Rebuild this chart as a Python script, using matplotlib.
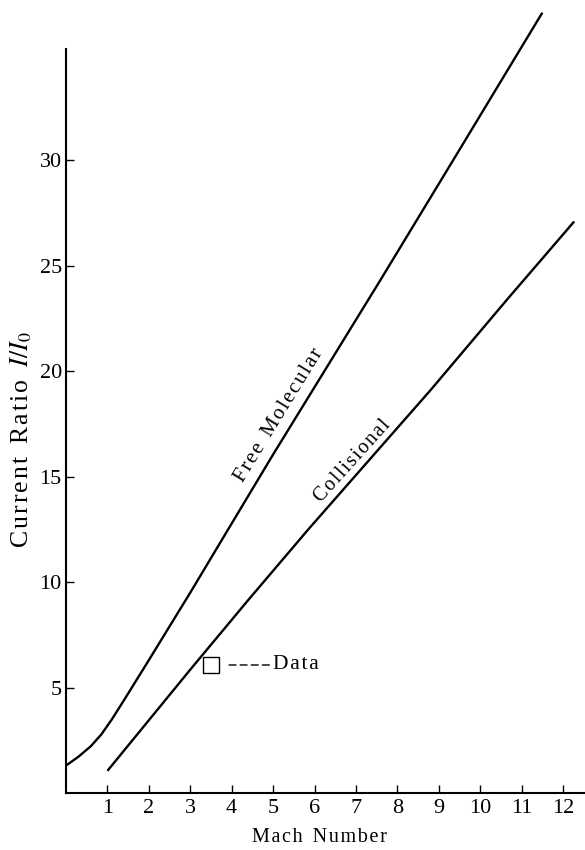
#########################################
# 1. Import required Libraries
#########################################

import matplotlib
matplotlib.use("Agg")
import matplotlib.pyplot as plt

#########################################
# 2. Chart data
#########################################

# Free molecular probe current ratio vs Mach number
free_mach = [0.0, 0.3, 0.6, 0.85, 1.1, 1.4, 2.0, 3.0, 3.9, 5.0, 7.6, 9.5, 11.5]
free_ratio = [1.3, 1.72, 2.22, 2.77, 3.47, 4.4, 6.3, 9.5, 12.45, 16.05, 24.35, 30.5, 37.0]

# Collisional probe current ratio vs Mach number
coll_mach = [1.0, 2.0, 3.0, 4.4, 5.85, 8.8, 10.65, 12.27]
coll_ratio = [1.05, 3.45, 5.85, 9.15, 12.5, 19.1, 23.4, 27.1]

# measured point
data_mach = [3.5]
data_ratio = [6.07]

x_ticks = list(range(1, 13))
y_ticks = [5, 10, 15, 20, 25, 30]

#########################################
# 3. Style
#########################################

plt.rcParams["font.family"] = ["Liberation Serif", "DejaVu Serif"]
plt.rcParams["mathtext.fontset"] = "stix"

HAIR = "\u200a"


def spaced(word):
    # old typeset look: a little air between letters
    return HAIR.join(word)


#########################################
# 4. Plot
#########################################

fig = plt.figure(figsize=(5.85, 8.5), dpi=100)
ax = fig.add_axes([66 / 585, 57 / 850, 519 / 585, 793 / 850])

ax.plot(free_mach, free_ratio, color="black", lw=1.7, solid_capstyle="butt")
ax.plot(coll_mach, coll_ratio, color="black", lw=1.7, solid_capstyle="butt")
ax.plot(data_mach, data_ratio, marker="s", ls="none", ms=11.5,
        mfc="white", mec="black", mew=1.0)

ax.annotate(spaced("Data"), xy=(data_mach[0], data_ratio[0]),
            xytext=(45, 0), textcoords="offset points",
            ha="left", va="center", fontsize=15.5,
            arrowprops=dict(arrowstyle="-", lw=1.0, linestyle=(0, (5, 3)),
                            shrinkA=1, shrinkB=12, color="black"))

ax.text(5.15, 17.9, spaced("Free") + "  " + spaced("Molecular"),
        rotation=58.5, fontsize=15, ha="center", va="center")
ax.text(6.93, 15.75, spaced("Collisional"), rotation=48, fontsize=14.5,
        ha="center", va="center")

ax.set_xlim(0, 12.53)
ax.set_ylim(0, 37.6)
ax.set_xticks(x_ticks)
ax.set_yticks(y_ticks)
ax.tick_params(direction="in", length=6, width=1.0, labelsize=16, pad=4)
ax.tick_params(axis="y", pad=3)

for side in ["top", "right"]:
    ax.spines[side].set_visible(False)
ax.spines["left"].set_bounds(0, 35.3)
ax.spines["left"].set_linewidth(1.5)
ax.spines["bottom"].set_linewidth(1.5)

ax.set_xlabel(spaced("Mach") + "  " + spaced("Number"), fontsize=14.5)
ax.xaxis.set_label_coords(0.489, -0.044)
ax.set_ylabel(spaced("Current") + "  " + spaced("Ratio") + "  $I/I_0$",
              fontsize=18.5)
ax.yaxis.set_label_coords(-0.062, 0.446)

fig.savefig("out.png", dpi=100)
